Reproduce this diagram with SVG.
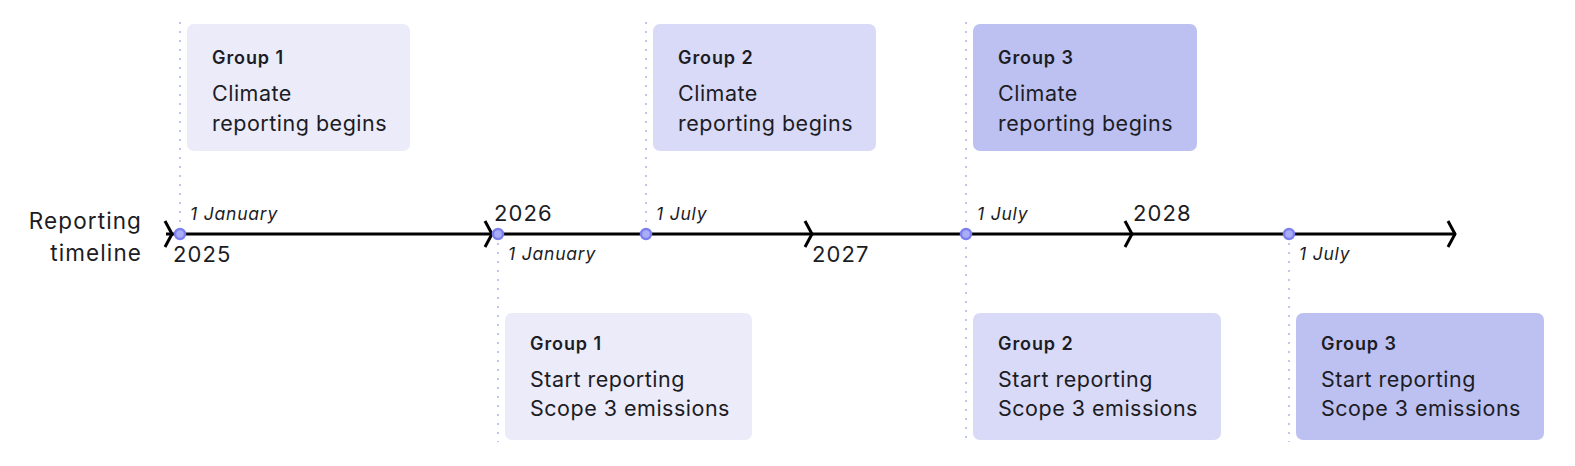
<svg xmlns="http://www.w3.org/2000/svg" width="1575" height="466" viewBox="0 0 1575 466">
<style>
  text { font-family: Inter, "Noto Sans", "Liberation Sans", sans-serif; fill: #1c1c24; }
  .title { font-size: 18px; font-weight: 600; letter-spacing: 0.9px; }
  .body { font-size: 21.5px; letter-spacing: 0.5px; }
  .date { font-size: 17.5px; font-style: italic; letter-spacing: 0.8px; }
  .year { font-size: 22px; letter-spacing: 1.1px; }
  .lbl { font-size: 22.5px; letter-spacing: 1.1px; }
  .g1 { fill: #ebebfa; }
  .g2 { fill: #d9daf7; }
  .g3 { fill: #bcc1f2; }
  .dot { stroke: #c3c5ef; stroke-width: 2; stroke-dasharray: 2 7; }
  .axis { stroke: #000; stroke-width: 3; fill: none; }
  .chev { stroke: #000; stroke-width: 3; fill: none; stroke-linejoin: miter; }
  .pt { fill: #a9acf6; stroke: #7c80ee; stroke-width: 2.5; }
</style>

<g id="guides">
  <line class="dot" x1="180" y1="22" x2="180" y2="234"/>
  <line class="dot" x1="498" y1="234" x2="498" y2="442"/>
  <line class="dot" x1="646" y1="22" x2="646" y2="234"/>
  <line class="dot" x1="966" y1="22" x2="966" y2="442"/>
  <line class="dot" x1="1289" y1="234" x2="1289" y2="442"/>
</g>

<g id="timeline-label">
  <text class="lbl" x="142" y="229" text-anchor="end">Reporting</text>
  <text class="lbl" x="142" y="261" text-anchor="end">timeline</text>
</g>

<g id="connectors">
  <line class="axis" x1="166" y1="234" x2="1456" y2="234"/>
  <polyline class="chev" points="165,221 172,234 165,247"/>
  <polyline class="chev" points="485,221 492,234 485,247"/>
  <polyline class="chev" points="805,221 812,234 805,247"/>
  <polyline class="chev" points="1125,221 1132,234 1125,247"/>
  <polyline class="chev" points="1448,221 1455,234 1448,247"/>
</g>

<g id="points">
  <circle class="pt" cx="180" cy="234" r="5"/>
  <circle class="pt" cx="498" cy="234" r="5"/>
  <circle class="pt" cx="646" cy="234" r="5"/>
  <circle class="pt" cx="966" cy="234" r="5"/>
  <circle class="pt" cx="1289" cy="234" r="5"/>
</g>

<g id="axis-labels">
  <text class="year" x="173" y="262">2025</text>
  <text class="date" x="190" y="220">1 January</text>
  <text class="year" x="494" y="221">2026</text>
  <text class="date" x="508" y="260">1 January</text>
  <text class="date" x="656" y="220">1 July</text>
  <text class="year" x="812" y="262">2027</text>
  <text class="date" x="977" y="220">1 July</text>
  <text class="year" x="1133" y="221">2028</text>
  <text class="date" x="1299" y="260">1 July</text>
</g>

<g id="top-group1">
  <rect class="g1" x="187" y="24" width="223" height="127" rx="7"/>
  <text class="title" x="212" y="64">Group 1</text>
  <text class="body" x="212" y="101">Climate</text>
  <text class="body" x="212" y="131">reporting begins</text>
</g>
<g id="top-group2">
  <rect class="g2" x="653" y="24" width="223" height="127" rx="7"/>
  <text class="title" x="678" y="64">Group 2</text>
  <text class="body" x="678" y="101">Climate</text>
  <text class="body" x="678" y="131">reporting begins</text>
</g>
<g id="top-group3">
  <rect class="g3" x="973" y="24" width="224" height="127" rx="7"/>
  <text class="title" x="998" y="64">Group 3</text>
  <text class="body" x="998" y="101">Climate</text>
  <text class="body" x="998" y="131">reporting begins</text>
</g>

<g id="bottom-group1">
  <rect class="g1" x="505" y="313" width="247" height="127" rx="7"/>
  <text class="title" x="530" y="350">Group 1</text>
  <text class="body" x="530" y="387">Start reporting</text>
  <text class="body" x="530" y="416">Scope 3 emissions</text>
</g>
<g id="bottom-group2">
  <rect class="g2" x="973" y="313" width="248" height="127" rx="7"/>
  <text class="title" x="998" y="350">Group 2</text>
  <text class="body" x="998" y="387">Start reporting</text>
  <text class="body" x="998" y="416">Scope 3 emissions</text>
</g>
<g id="bottom-group3">
  <rect class="g3" x="1296" y="313" width="248" height="127" rx="7"/>
  <text class="title" x="1321" y="350">Group 3</text>
  <text class="body" x="1321" y="387">Start reporting</text>
  <text class="body" x="1321" y="416">Scope 3 emissions</text>
</g>
</svg>
